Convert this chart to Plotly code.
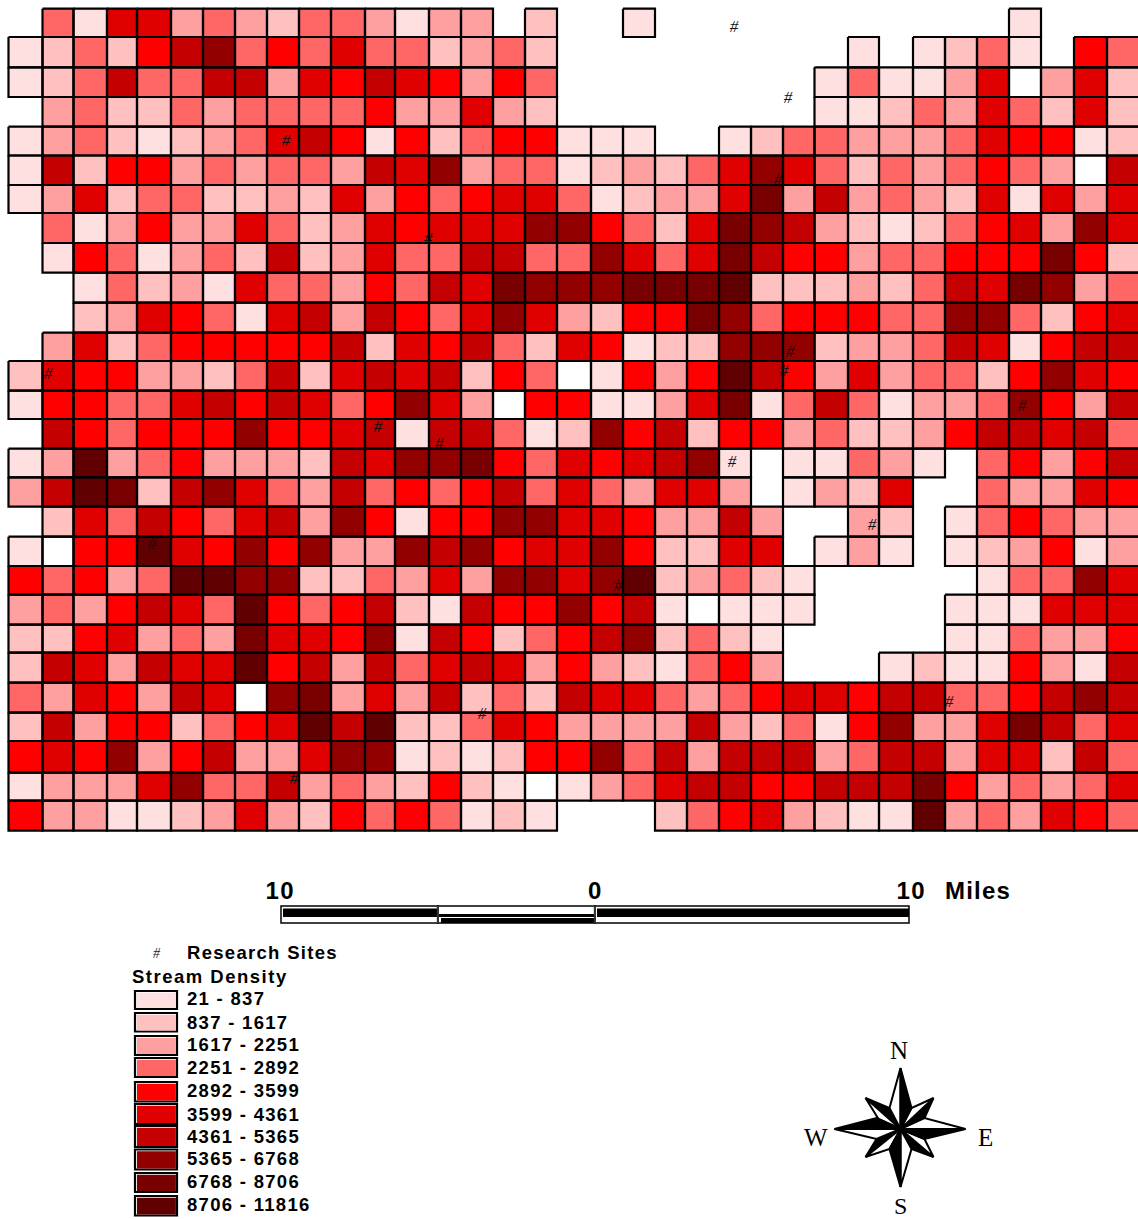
import json
import plotly.graph_objects as go

_ = None
# Stream density class per grid cell (0 = no density, 1..10 = legend classes, None = no cell)
stream_class = [
 [_,4,1,6,6,3,4,3,2,4,4,3,1,3,3,_,2, _,_,1,_,_,_,_,_,_,_,_,_,_,_,1,_,_,_],
 [1,2,4,2,5,7,8,4,5,4,6,4,4,2,3,4,2, _,_,_,_,_,_,_,_,_,1,_,1,2,4,1,_,5,4],
 [1,2,4,7,4,4,7,7,3,6,5,7,6,5,3,5,4, _,_,_,_,_,_,_,_,1,4,1,1,3,6,0,3,6,2],
 [_,3,4,2,2,4,3,4,4,4,4,5,3,3,6,3,2, _,_,_,_,_,_,_,_,1,1,2,4,3,6,4,2,6,2],
 [1,3,4,2,1,2,3,4,6,7,5,1,5,2,4,5,5, 1,1,1,_,_,1,2,4,4,3,3,3,4,6,5,5,1,2],
 [1,7,2,5,5,3,4,3,4,4,3,7,6,8,3,4,4, 1,2,3,2,4,6,8,6,4,2,4,3,4,5,4,3,0,7],
 [1,3,6,2,4,4,2,2,3,2,6,3,5,4,5,6,6, 4,1,2,3,3,6,9,3,7,3,4,3,2,6,1,6,3,6],
 [_,4,1,3,5,3,3,6,4,2,3,6,5,6,6,6,8, 8,5,4,2,6,9,8,7,3,2,1,2,4,5,6,3,8,6],
 [_,1,5,4,1,3,4,2,7,2,3,6,4,4,7,7,4, 4,8,6,4,6,9,7,5,5,3,4,4,5,5,5,9,5,2],
 [_,_,1,4,2,3,1,6,4,4,3,5,4,7,6,9,8, 8,8,9,9,9,10,2,2,2,3,2,4,7,6,9,8,3,4],
 [_,_,2,3,6,5,4,1,6,7,3,7,5,4,6,8,6, 3,2,5,5,9,8,4,5,5,5,4,4,8,8,4,2,5,6],
 [_,3,6,2,4,5,5,5,5,5,7,2,6,5,7,4,2, 6,5,1,2,2,8,8,8,2,3,3,4,7,6,1,5,7,7],
 [2,6,5,5,3,3,2,4,7,2,6,7,6,7,2,5,4, 0,1,5,3,5,10,7,5,3,6,3,4,4,2,5,8,6,5],
 [1,5,5,4,4,6,7,5,7,6,4,5,8,6,3,0,5, 5,1,1,3,6,9,1,4,7,4,1,3,3,4,8,5,3,7],
 [_,7,5,4,5,5,5,8,5,5,6,7,1,7,7,4,1, 2,8,5,7,2,5,5,3,4,2,2,3,5,7,7,6,7,4],
 [1,3,10,3,4,5,3,3,3,2,7,6,8,8,9,5,4, 6,5,6,7,8,1,_,1,1,4,3,1,_,4,5,3,5,7],
 [3,7,10,9,2,7,8,6,4,3,7,4,5,4,5,7,4, 6,4,3,6,6,3,_,1,3,2,6,_,_,4,3,3,6,5],
 [_,2,6,4,7,5,4,6,7,3,8,5,1,5,5,8,8, 6,6,5,3,3,7,3,_,_,3,2,_,1,4,5,4,3,3],
 [1,0,5,5,10,6,5,8,5,8,3,3,8,7,8,5,6, 6,8,5,2,2,6,6,_,1,3,1,_,1,2,3,5,1,3],
 [5,4,5,3,4,10,10,8,8,2,2,4,3,6,3,8,8, 6,8,10,2,3,4,2,1,_,_,_,_,_,1,4,4,8,6],
 [3,4,3,5,7,6,4,10,5,4,5,7,2,1,7,5,5, 8,5,7,1,0,1,1,1,_,_,_,_,1,1,1,6,6,6],
 [2,2,5,6,3,4,3,9,6,6,5,8,1,7,5,2,4, 5,7,8,2,4,2,1,_,_,_,_,_,1,1,4,3,3,5],
 [2,7,6,3,7,6,6,10,5,7,3,7,4,6,7,6,3, 5,3,2,1,4,5,3,_,_,_,1,2,1,1,5,3,1,7],
 [4,3,6,5,3,7,6,0,8,9,3,6,3,7,2,4,2, 7,6,6,4,3,4,5,6,6,5,7,7,4,4,5,7,8,7],
 [2,7,3,5,5,2,4,5,6,10,7,10,2,2,4,6,5, 3,3,3,3,7,3,2,4,1,5,8,3,3,6,9,7,4,6],
 [5,6,5,8,3,5,7,3,3,6,8,8,1,2,1,2,5, 5,8,4,7,3,7,7,7,3,4,7,7,3,6,6,2,7,4],
 [1,3,3,3,6,8,4,4,7,3,4,3,2,5,2,1,0, 1,3,4,6,7,7,5,5,7,7,7,9,5,3,4,3,4,6],
 [5,3,3,1,1,2,3,6,3,2,5,4,5,4,1,2,1, _,_,_,2,4,5,6,3,2,1,1,10,3,4,3,6,5,4],
]
assert len(stream_class) == 28 and all(len(r) == 35 for r in stream_class)

class_colors = ["#FFFFFF", "#FFE0E0", "#FFC0C0", "#FFA0A0", "#FF6666", "#FF0000",
                "#E00000", "#C40000", "#920000", "#780000", "#600000"]
class_labels = ["21 - 837", "837 - 1617", "1617 - 2251", "2251 - 2892", "2892 - 3599",
                "3599 - 4361", "4361 - 5365", "5365 - 6768", "6768 - 8706", "8706 - 11816"]

site_x = [734, 788, 286, 778, 428, 790, 784, 48, 1022, 378, 439, 732, 872, 152, 618, 949, 482, 294]
site_y = [28, 99, 142, 181, 240, 353, 372, 375, 407, 428, 445, 463, 526, 545, 587, 703, 715, 780]

# ---- layout of the page (pixel-like axis units) ----
W, H = 1138, 1219
col_edges = [8.5, 42.5, 73.5, 107, 137, 171, 203, 235, 267, 299, 331, 365, 395, 429, 461, 493, 525,
             557, 591, 623, 655, 687, 719, 751, 783, 814.5, 848, 879, 913, 945, 977, 1009, 1041,
             1074, 1107, 1141]
row_edges = [8.7, 37, 67.3, 97, 126.7, 155.5, 185, 213, 243, 272.7, 302.7, 332.7, 361, 390.7, 419,
             448.7, 477.3, 506.7, 536.7, 566, 594.7, 624.7, 652.7, 682.7, 712.7, 741, 772.7, 800.7,
             830.7]

n_cls = len(class_colors)
colorscale = []
for i, c in enumerate(class_colors):
    colorscale += [[i / n_cls, c], [(i + 1) / n_cls, c]]

fig = go.Figure()
fig.add_trace(go.Heatmap(z=stream_class, x=col_edges, y=row_edges, zmin=-0.5, zmax=n_cls - 0.5,
                         colorscale=colorscale, showscale=False, hoverinfo="skip"))

# cell outlines
ox, oy = [], []
for r, row in enumerate(stream_class):
    for c, v in enumerate(row):
        if v is None:
            continue
        x0, x1, y0, y1 = col_edges[c], col_edges[c + 1], row_edges[r], row_edges[r + 1]
        ox += [x0, x1, x1, x0, x0, None]
        oy += [y0, y0, y1, y1, y0, None]
fig.add_trace(go.Scatter(x=ox, y=oy, mode="lines", line=dict(color="black", width=2.2),
                         hoverinfo="skip", showlegend=False))

# research sites
fig.add_trace(go.Scatter(x=site_x, y=site_y, mode="text", text=["<i>#</i>"] * len(site_x),
                         textposition="middle center",
                         textfont=dict(family="Liberation Serif", size=17, color="#111111"),
                         hoverinfo="skip", showlegend=False))

shapes, ann = [], []
spacing = {}


def rect(x0, y0, x1, y1, fill, line=None, lw=0):
    shapes.append(dict(type="rect", x0=x0, y0=y0, x1=x1, y1=y1, xref="x", yref="y", fillcolor=fill,
                       line=dict(color=line or fill, width=lw)))


def label(x, y, t, size, family="Liberation Sans", anchor="left", color="black", ls=0):
    ann.append(dict(x=x, y=y, xref="x", yref="y", text=f"<b>{t}</b>" if ls else t, showarrow=False,
                    xanchor=anchor, yanchor="middle", align=anchor,
                    font=dict(family=family, size=size, color=color), borderpad=0, borderwidth=0))
    if ls:
        spacing[t] = ls


# scale bar
rect(281, 906, 438, 923, "white", "black", 1.5)
rect(283, 908.5, 438, 917, "black")
rect(438, 906, 595, 923, "white", "black", 1.5)
rect(438, 914, 595, 917, "black")
rect(441, 918, 595, 923, "black")
rect(595, 906, 909, 923, "white", "black", 1.5)
rect(597, 908.5, 909, 917, "black")
rect(436.8, 906, 439, 923, "#333333")
rect(593.8, 906, 596, 923, "#333333")
label(280, 890, "10", 24, anchor="center", ls=1.6)
label(594, 890, "0", 24, anchor="center", ls=0.1)
label(911, 890, "10", 24, anchor="center", ls=1.6)
label(945, 890, "Miles", 24, ls=1.2)

# legend
label(157, 953, "<i>#</i>", 14, family="Liberation Serif", anchor="center", color="#222222")
label(187, 952, "Research Sites", 18.5, ls=1.3)
label(132, 976, "Stream Density", 18.5, ls=1.5)
swatch_top = [991, 1013, 1036, 1058, 1082, 1104, 1126, 1149.5, 1173, 1196]
swatch_bot = [1009, 1031.5, 1055, 1077, 1101.5, 1124, 1147, 1169.5, 1192, 1215.5]
label_y = [998, 1022, 1044, 1067, 1090, 1114, 1136, 1158, 1181, 1204]
for i, lab in enumerate(class_labels):
    rect(135, swatch_top[i], 177, swatch_bot[i], "white", "black", 2.2)
    rect(137, swatch_top[i] + 1.8, 175.9, swatch_bot[i] - 1.1, class_colors[i + 1])
    label(187, label_y[i], lab, 18.5, ls=1.3)

# compass
cx, cy = 900.5, 1129
tips = {"N": (0, -61), "E": (65, 0), "S": (0, 58), "W": (-66, 0)}
diag = {"NE": (33, -31), "SE": (33, 28), "SW": (-35, 28), "NW": (-35, -31)}


def poly(points, fill):
    d = "M " + " L ".join(f"{cx + a},{cy + b}" for a, b in points) + " Z"
    shapes.append(dict(type="path", path=d, xref="x", yref="y", fillcolor=fill,
                       line=dict(color="black", width=2)))


# diagonal points under the main star
poly([(0, 0), diag["NW"], (-11, -21)], "black")
poly([(0, 0), diag["NW"], (-22, -10)], "white")
poly([(0, 0), diag["NE"], (24, -11)], "black")
poly([(0, 0), diag["NE"], (11, -21)], "white")
poly([(0, 0), diag["SE"], (11, 20)], "black")
poly([(0, 0), diag["SE"], (24, 10)], "white")
poly([(0, 0), diag["SW"], (-24, 10)], "black")
poly([(0, 0), diag["SW"], (-11, 20)], "white")
# main points: half black, half white
poly([(0, 0), tips["N"], (-11, -21)], "white")
poly([(0, 0), tips["N"], (11, -21)], "black")
poly([(0, 0), tips["E"], (24, -11)], "white")
poly([(0, 0), tips["E"], (24, 10)], "black")
poly([(0, 0), tips["S"], (11, 20)], "white")
poly([(0, 0), tips["S"], (-11, 20)], "black")
poly([(0, 0), tips["W"], (-24, 10)], "white")
poly([(0, 0), tips["W"], (-24, -11)], "black")
label(898.5, 1050, "N", 25, family="Liberation Serif", anchor="center")
label(900, 1205.5, "S", 24, family="Liberation Serif", anchor="center")
label(816, 1137, "W", 25, family="Liberation Serif", anchor="center")
label(985, 1137, "E", 25, family="Liberation Serif", anchor="center")

axis = dict(visible=False, showgrid=False, zeroline=False, fixedrange=True)
fig.update_layout(
    width=W, height=H, margin=dict(l=0, r=0, t=0, b=0), paper_bgcolor="white", plot_bgcolor="white",
    showlegend=False, shapes=shapes, annotations=ann,
    xaxis=dict(range=[0, W], **axis), yaxis=dict(range=[H, 0], **axis),
)
post = (
    "document.body.style.margin='0';document.body.style.overflow='hidden';"
    f"var sp={json.dumps(spacing)};"
    "document.querySelectorAll('.annotation-text').forEach(function(t){"
    "var k=t.textContent; if(sp[k]) t.style.letterSpacing=sp[k]+'px';});"
)
fig.write_html("out.html", config={"displayModeBar": False, "responsive": False}, post_script=post)
